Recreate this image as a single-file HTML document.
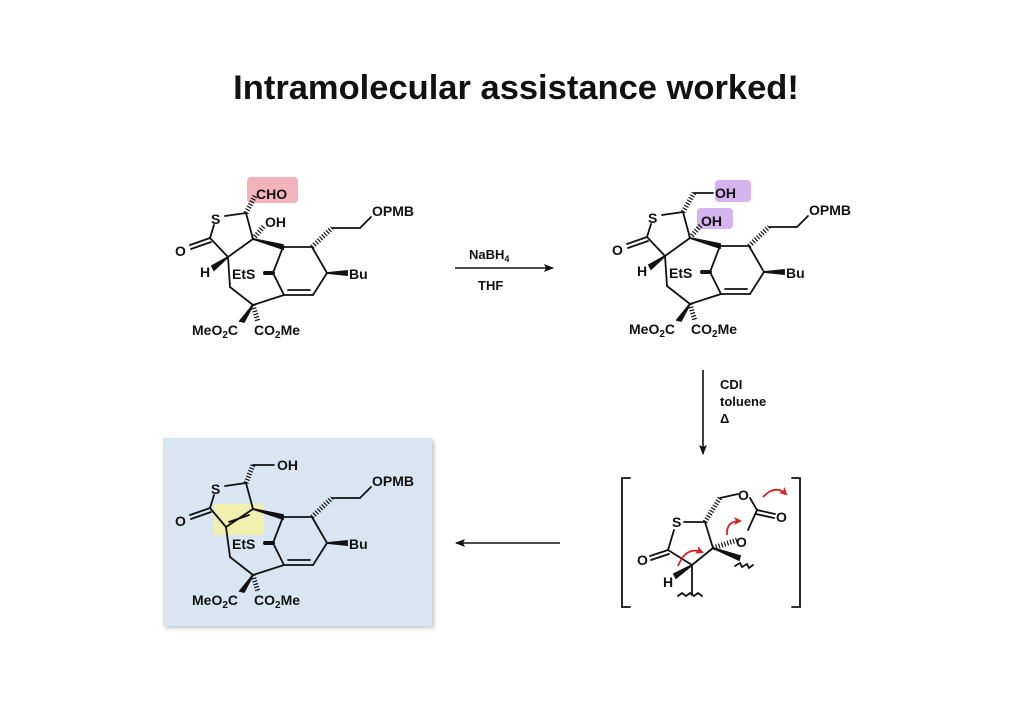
<!DOCTYPE html>
<html><head><meta charset="utf-8"><style>
html,body{margin:0;padding:0;background:#fff;}
svg{display:block;}
text{font-family:"Liberation Sans",Arial,sans-serif;font-weight:bold;fill:#111;}
</style></head><body>
<svg width="1024" height="724" viewBox="0 0 1024 724" xmlns="http://www.w3.org/2000/svg">
<defs>
<filter id="sh" x="-5%" y="-5%" width="115%" height="115%"><feDropShadow dx="2" dy="2" stdDeviation="2" flood-color="#999" flood-opacity="0.6"/></filter>
<marker id="ah" markerWidth="10" markerHeight="8" refX="9" refY="4" orient="auto" markerUnits="userSpaceOnUse"><path d="M0,0 L10,4 L0,8 L2,4 Z" fill="#111"/></marker>
<marker id="rh" markerWidth="8" markerHeight="8" refX="6" refY="4" orient="auto" markerUnits="userSpaceOnUse"><path d="M0,0 L8,4 L0,8 L2,4 Z" fill="#d42020"/></marker>
</defs>
<text x="516" y="99" font-size="34.5" text-anchor="middle">Intramolecular assistance worked!</text>

<rect x="163" y="438" width="269" height="188" fill="#d9e6f2" filter="url(#sh)"/>

<!-- Molecule 1 -->
<g stroke="#111" stroke-width="1.8" fill="none" stroke-linecap="round">
<rect x="247" y="177" width="51" height="26" rx="4" fill="#f2b3bd" stroke="none"/>
<line x1="225" y1="216" x2="246" y2="213"/><line x1="246" y1="213" x2="253" y2="239"/>
<line x1="253" y1="239" x2="228" y2="257"/><line x1="228" y1="257" x2="210" y2="238"/>
<line x1="210" y1="238" x2="214" y2="225"/>
<line x1="210" y1="238" x2="190" y2="245"/><line x1="211" y1="242" x2="191" y2="249"/>
<line x1="228" y1="257" x2="230" y2="287"/><line x1="230" y1="287" x2="253" y2="305"/>
<polygon points="253,239 283,245 283,249" fill="#111"/>
<line x1="283" y1="247" x2="312" y2="247"/><line x1="312" y1="247" x2="327" y2="273"/>
<line x1="327" y1="273" x2="313" y2="295"/><line x1="313" y1="295" x2="284" y2="295"/>
<line x1="310" y1="290" x2="288" y2="290"/>
<line x1="284" y1="295" x2="253" y2="305"/><line x1="283" y1="247" x2="273" y2="273"/><line x1="273" y1="273" x2="284" y2="295"/>
<line x1="265" y1="273" x2="273" y2="273" stroke-width="4"/>
<line x1="312" y1="247" x2="332" y2="228" stroke-width="5" stroke-dasharray="1.2 1.8" stroke-linecap="butt"/>
<polyline points="332,228 360,228 371,217"/>
<polygon points="327,273 347,271 347,275" fill="#111"/>
<polygon points="253,305 240,321 244,322" fill="#111"/>
<line x1="253" y1="305" x2="258" y2="322" stroke-width="5" stroke-dasharray="1.2 1.8" stroke-linecap="butt"/>
<line x1="246" y1="213" x2="255" y2="196" stroke-width="5" stroke-dasharray="1.2 1.8" stroke-linecap="butt"/>
<line x1="253" y1="239" x2="264" y2="226" stroke-width="5" stroke-dasharray="1.2 1.8" stroke-linecap="butt"/>
<polygon points="228,257 212,266 214,270" fill="#111"/>
</g>
<g font-size="14">
<text x="211" y="224">S</text><text x="175" y="256">O</text>
<text x="256" y="199">CHO</text><text x="265" y="227">OH</text><text x="200" y="277">H</text>
<text x="232" y="279">EtS</text><text x="349" y="279">Bu</text><text x="372" y="216">OPMB</text>
<text x="192" y="335">MeO<tspan font-size="10" dy="3">2</tspan><tspan dy="-3">C</tspan></text>
<text x="254" y="335">CO<tspan font-size="10" dy="3">2</tspan><tspan dy="-3">Me</tspan></text>
</g>

<!-- Molecule 2 -->
<g transform="translate(437,-1)">
<g stroke="#111" stroke-width="1.8" fill="none" stroke-linecap="round">
<rect x="278" y="181" width="36" height="22" rx="4" fill="#d4b3ee" stroke="none"/>
<rect x="260" y="209" width="36" height="21" rx="4" fill="#d4b3ee" stroke="none"/>
<line x1="225" y1="216" x2="246" y2="213"/><line x1="246" y1="213" x2="253" y2="239"/>
<line x1="253" y1="239" x2="228" y2="257"/><line x1="228" y1="257" x2="210" y2="238"/>
<line x1="210" y1="238" x2="214" y2="225"/>
<line x1="210" y1="238" x2="190" y2="245"/><line x1="211" y1="242" x2="191" y2="249"/>
<line x1="228" y1="257" x2="230" y2="287"/><line x1="230" y1="287" x2="253" y2="305"/>
<polygon points="253,239 283,245 283,249" fill="#111"/>
<line x1="283" y1="247" x2="312" y2="247"/><line x1="312" y1="247" x2="327" y2="273"/>
<line x1="327" y1="273" x2="313" y2="295"/><line x1="313" y1="295" x2="284" y2="295"/>
<line x1="310" y1="290" x2="288" y2="290"/>
<line x1="284" y1="295" x2="253" y2="305"/><line x1="283" y1="247" x2="273" y2="273"/><line x1="273" y1="273" x2="284" y2="295"/>
<line x1="265" y1="273" x2="273" y2="273" stroke-width="4"/>
<line x1="312" y1="247" x2="332" y2="228" stroke-width="5" stroke-dasharray="1.2 1.8" stroke-linecap="butt"/>
<polyline points="332,228 360,228 371,217"/>
<polygon points="327,273 347,271 347,275" fill="#111"/>
<polygon points="253,305 240,321 244,322" fill="#111"/>
<line x1="253" y1="305" x2="258" y2="322" stroke-width="5" stroke-dasharray="1.2 1.8" stroke-linecap="butt"/>
<line x1="246" y1="213" x2="257" y2="194" stroke-width="5" stroke-dasharray="1.2 1.8" stroke-linecap="butt"/>
<line x1="257" y1="194" x2="276" y2="194"/>
<line x1="253" y1="239" x2="264" y2="226" stroke-width="5" stroke-dasharray="1.2 1.8" stroke-linecap="butt"/>
<polygon points="228,257 212,266 214,270" fill="#111"/>
</g>
<g font-size="14">
<text x="211" y="224">S</text><text x="175" y="256">O</text>
<text x="278" y="199">OH</text><text x="264" y="227">OH</text><text x="200" y="277">H</text>
<text x="232" y="279">EtS</text><text x="349" y="279">Bu</text><text x="372" y="216">OPMB</text>
<text x="192" y="335">MeO<tspan font-size="10" dy="3">2</tspan><tspan dy="-3">C</tspan></text>
<text x="254" y="335">CO<tspan font-size="10" dy="3">2</tspan><tspan dy="-3">Me</tspan></text>
</g>
</g>

<!-- Molecule 3 -->
<g transform="translate(0,270)">
<rect x="214" y="234" width="50" height="31" fill="#f3f0a6" opacity="0.9"/>
<g stroke="#111" stroke-width="1.8" fill="none" stroke-linecap="round">
<line x1="225" y1="216" x2="246" y2="213"/><line x1="246" y1="213" x2="253" y2="239"/>
<line x1="253" y1="239" x2="226" y2="257"/><line x1="249" y1="245" x2="229" y2="252"/>
<line x1="226" y1="257" x2="210" y2="238"/>
<line x1="210" y1="238" x2="214" y2="225"/>
<line x1="210" y1="238" x2="190" y2="245"/><line x1="211" y1="242" x2="191" y2="249"/>
<line x1="226" y1="257" x2="230" y2="287"/><line x1="230" y1="287" x2="253" y2="305"/>
<polygon points="253,239 283,245 283,249" fill="#111"/>
<line x1="283" y1="247" x2="312" y2="247"/><line x1="312" y1="247" x2="327" y2="273"/>
<line x1="327" y1="273" x2="313" y2="295"/><line x1="313" y1="295" x2="284" y2="295"/>
<line x1="310" y1="290" x2="288" y2="290"/>
<line x1="284" y1="295" x2="253" y2="305"/><line x1="283" y1="247" x2="273" y2="273"/><line x1="273" y1="273" x2="284" y2="295"/>
<line x1="265" y1="273" x2="273" y2="273" stroke-width="4"/>
<line x1="312" y1="247" x2="332" y2="228" stroke-width="5" stroke-dasharray="1.2 1.8" stroke-linecap="butt"/>
<polyline points="332,228 360,228 371,217"/>
<polygon points="327,273 347,271 347,275" fill="#111"/>
<polygon points="253,305 240,321 244,322" fill="#111"/>
<line x1="253" y1="305" x2="258" y2="322" stroke-width="5" stroke-dasharray="1.2 1.8" stroke-linecap="butt"/>
<line x1="246" y1="213" x2="253" y2="195" stroke-width="5" stroke-dasharray="1.2 1.8" stroke-linecap="butt"/>
<line x1="253" y1="195" x2="274" y2="195"/>
</g>
<g font-size="14">
<text x="211" y="224">S</text><text x="175" y="256">O</text>
<text x="277" y="200">OH</text>
<text x="232" y="279">EtS</text><text x="349" y="279">Bu</text><text x="372" y="216">OPMB</text>
<text x="192" y="335">MeO<tspan font-size="10" dy="3">2</tspan><tspan dy="-3">C</tspan></text>
<text x="254" y="335">CO<tspan font-size="10" dy="3">2</tspan><tspan dy="-3">Me</tspan></text>
</g>
</g>

<!-- Reaction arrows -->
<g stroke="#111" stroke-width="1.6" fill="none">
<line x1="455" y1="268" x2="553" y2="268" marker-end="url(#ah)"/>
<line x1="703" y1="370" x2="703" y2="454" marker-end="url(#ah)"/>
<line x1="560" y1="543" x2="456" y2="543" marker-end="url(#ah)"/>
</g>
<g font-size="13">
<text x="469" y="259">NaBH<tspan font-size="9" dy="3">4</tspan></text>
<text x="478" y="290">THF</text>
<text x="720" y="389">CDI</text><text x="720" y="406">toluene</text><text x="720" y="423">Δ</text>
</g>

<!-- Intermediate -->
<g stroke="#111" stroke-width="1.8" fill="none" stroke-linecap="round">
<polyline points="630,478 622,478 622,607 630,607"/>
<polyline points="792,478 800,478 800,607 792,607"/>
</g>
<g stroke="#111" stroke-width="1.8" fill="none" stroke-linecap="round">
<line x1="684" y1="522" x2="705" y2="522"/><line x1="705" y1="522" x2="713" y2="548"/>
<line x1="713" y1="548" x2="692" y2="565"/><line x1="692" y1="565" x2="668" y2="550"/>
<line x1="668" y1="550" x2="674" y2="530"/>
<line x1="668" y1="550" x2="650" y2="556"/><line x1="669" y1="554" x2="651" y2="560"/>
<line x1="705" y1="522" x2="720" y2="498" stroke-width="5" stroke-dasharray="1.2 1.8" stroke-linecap="butt"/>
<line x1="720" y1="498" x2="738" y2="494"/>
<line x1="750" y1="498" x2="757" y2="510"/>
<line x1="757" y1="510" x2="775" y2="514"/><line x1="756" y1="514" x2="774" y2="518"/>
<line x1="757" y1="510" x2="748" y2="530"/>
<line x1="713" y1="548" x2="737" y2="540" stroke-width="5" stroke-dasharray="1.2 1.8" stroke-linecap="butt"/>
<polygon points="713,548 740,556 739,560" fill="#111"/>
<polygon points="692,565 674,574 676,578" fill="#111"/>
<line x1="692" y1="565" x2="692" y2="595"/>
<path d="M735,566 l5,-3 l2,4 l5,-3 l2,4 l4,-3"/>
<path d="M678,596 l4,-3 l4,3 l4,-3 l4,3 l4,-3 l4,3"/>
</g>
<g font-size="14">
<text x="672" y="527">S</text><text x="637" y="565">O</text><text x="663" y="587">H</text>
<text x="738" y="500">O</text><text x="776" y="522">O</text><text x="736" y="547">O</text>
</g>
<g stroke="#d42020" stroke-width="1.8" fill="none">
<path d="M678,566 Q686,546 702,552" marker-end="url(#rh)"/>
<path d="M727,535 Q726,521 740,521" marker-end="url(#rh)"/>
<path d="M763,497 Q775,484 786,494" marker-end="url(#rh)"/>
</g>
</svg>
</body></html>
